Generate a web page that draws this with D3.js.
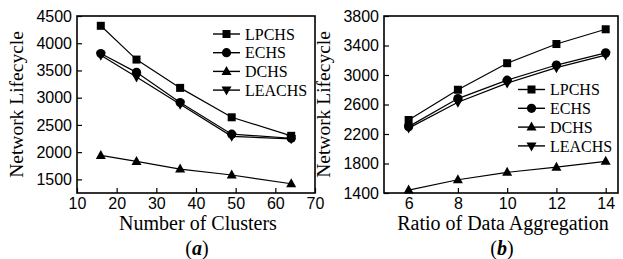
<!DOCTYPE html>
<html>
<head>
<meta charset="utf-8">
<script src="https://cdn.jsdelivr.net/npm/d3@7"></script>
<style>
  body { margin: 0; background: #fff; }
  svg { display: block; }
  .tick text { font-family: "Liberation Sans", Arial, sans-serif; font-size: 16px; fill: #000; }
  .title { font-family: "Liberation Serif", "Times New Roman", serif; fill: #000; }
  .legend text { font-family: "Liberation Serif", "Times New Roman", serif; font-size: 16px; fill: #000; }
</style>
</head>
<body>
<div id="chart"></div>
<script>
// series names (legend order)
var seriesNames = ['LPCHS', 'ECHS', 'DCHS', 'LEACHS'];

// --- panel (a): number of clusters
var clusters = [16, 25, 36, 49, 64];
var lpchsA  = [4320, 3700, 3180, 2640, 2300];
var echsA   = [3810, 3465, 2910, 2330, 2255];
var dchsA   = [1940, 1830, 1690, 1580, 1420];
var leachsA = [3780, 3380, 2880, 2290, 2245];
var xTicksA = [10, 20, 30, 40, 50, 60, 70];
var yTicksA = [1500, 2000, 2500, 3000, 3500, 4000, 4500];

// --- panel (b): ratio of data aggregation
var ratios  = [6, 8, 10, 12, 14];
var lpchsB  = [2390, 2800, 3160, 3420, 3620];
var echsB   = [2300, 2680, 2930, 3135, 3300];
var dchsB   = [1440, 1580, 1680, 1750, 1830];
var leachsB = [2280, 2630, 2890, 3100, 3270];
var xTicksB = [6, 8, 10, 12, 14];
var yTicksB = [1400, 1800, 2200, 2600, 3000, 3400, 3800];

var W = 623, H = 259;
var svg = d3.select('#chart').append('svg')
    .attr('width', W)
    .attr('height', H);

// marker shapes
function marker(sel, kind) {
  if (kind == 'LPCHS') {
    sel.append('rect').attr('x', -4).attr('y', -4).attr('width', 8).attr('height', 8);
  } else if (kind == 'ECHS') {
    sel.append('circle').attr('r', 4.6);
  } else if (kind == 'DCHS') {
    sel.append('path').attr('d', 'M0,-5.5L5,3.5L-5,3.5Z');
  } else {
    sel.append('path').attr('d', 'M0,5.5L5,-3.5L-5,-3.5Z');
  }
}

function panel(opt) {
  var x = d3.scaleLinear().domain(opt.xDomain).range([opt.left, opt.right]);
  var y = d3.scaleLinear().domain(opt.yDomain).range([opt.bottom, opt.top]);

  var g = svg.append('g');

  // axes with inward ticks
  g.append('g')
      .attr('transform', 'translate(0,' + opt.bottom + ')')
      .call(d3.axisBottom(x).tickValues(opt.xTicks).tickSize(-5).tickPadding(5).tickFormat(d3.format('d')))
      .call(function(a) { a.select('.domain').remove(); });
  g.append('g')
      .attr('transform', 'translate(' + opt.left + ',0)')
      .call(d3.axisLeft(y).tickValues(opt.yTicks).tickSize(-5).tickPadding(5).tickFormat(d3.format('d')))
      .call(function(a) { a.select('.domain').remove(); });
  g.selectAll('.tick line').attr('stroke', '#000').attr('stroke-width', 1.2);

  // frame
  g.append('rect')
      .attr('x', opt.left).attr('y', opt.top)
      .attr('width', opt.right - opt.left).attr('height', opt.bottom - opt.top)
      .attr('fill', 'none').attr('stroke', '#000').attr('stroke-width', 1.6);

  var line = d3.line()
      .x(function(d) { return x(d[0]); })
      .y(function(d) { return y(d[1]); });

  opt.series.forEach(function(vals, i) {
    var pts = opt.xs.map(function(v, j) { return [v, vals[j]]; });
    g.append('path')
        .datum(pts)
        .attr('d', line)
        .attr('fill', 'none')
        .attr('stroke', '#000')
        .attr('stroke-width', 1.2);
    pts.forEach(function(p) {
      var m = g.append('g').attr('transform', 'translate(' + x(p[0]) + ',' + y(p[1]) + ')');
      marker(m, seriesNames[i]);
    });
  });

  // legend
  var leg = g.append('g').attr('class', 'legend');
  seriesNames.forEach(function(name, i) {
    var ly = opt.legY + i * opt.legStep;
    leg.append('line')
        .attr('x1', opt.legX).attr('x2', opt.legX + 27)
        .attr('y1', ly).attr('y2', ly)
        .attr('stroke', '#000').attr('stroke-width', 1.4);
    var m = leg.append('g').attr('transform', 'translate(' + (opt.legX + 13.5) + ',' + ly + ')');
    marker(m, name);
    leg.append('text')
        .attr('x', opt.legX + 32).attr('y', ly)
        .attr('dy', '0.35em')
        .text(name);
  });

  // axis titles
  g.append('text')
      .attr('class', 'title')
      .attr('transform', 'translate(' + (opt.left - 54) + ',' + ((opt.top + opt.bottom) / 2) + ') rotate(-90)')
      .attr('text-anchor', 'middle')
      .style('font-size', '19.5px')
      .text('Network Lifecycle');
  g.append('text')
      .attr('class', 'title')
      .attr('x', (opt.left + opt.right) / 2 + 2)
      .attr('y', 230)
      .attr('text-anchor', 'middle')
      .style('font-size', '20px')
      .text(opt.xTitle);
  var cap = g.append('text')
      .attr('class', 'title')
      .attr('x', (opt.left + opt.right) / 2 + 1)
      .attr('y', 255)
      .attr('text-anchor', 'middle')
      .style('font-size', '20px');
  cap.append('tspan').text('(');
  cap.append('tspan').style('font-style', 'italic').style('font-weight', 'bold').text(opt.label);
  cap.append('tspan').text(')');
}

panel({
  left: 77, right: 315, top: 16, bottom: 193,
  xDomain: [10, 70], yDomain: [1250, 4500],
  xTicks: xTicksA, yTicks: yTicksA,
  xs: clusters, series: [lpchsA, echsA, dchsA, leachsA],
  legX: 213, legY: 34, legStep: 18.7,
  xTitle: 'Number of Clusters', label: 'a'
});

panel({
  left: 384, right: 618, top: 16, bottom: 193,
  xDomain: [5, 14.5], yDomain: [1400, 3800],
  xTicks: xTicksB, yTicks: yTicksB,
  xs: ratios, series: [lpchsB, echsB, dchsB, leachsB],
  legX: 518, legY: 89.5, legStep: 18.8,
  xTitle: 'Ratio of Data Aggregation', label: 'b'
});
</script>
</body>
</html>
